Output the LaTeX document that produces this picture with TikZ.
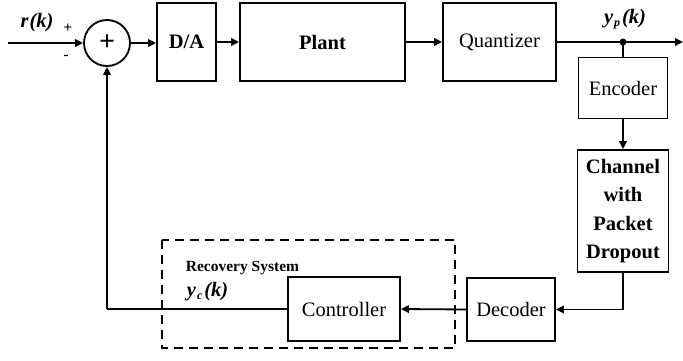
\documentclass[tikz,border=0pt]{standalone}
\usepackage{fontspec}
\setmainfont{Liberation Serif}
\usetikzlibrary{arrows.meta}
\newcommand{\subidx}[1]{\kern1pt\raisebox{-3pt}{\fontsize{12}{13}\selectfont #1}\kern2pt}
\begin{document}
\begin{tikzpicture}[x=1pt,y=-1pt,
  line width=1.8pt,
  blk/.style={draw, line width=1.8pt, inner sep=0pt, font=\fontsize{20.5}{22}\selectfont},
  arr/.style={-{Triangle[length=8pt,width=7.5pt]}},
  lbl/.style={font=\fontsize{20.5}{22}\selectfont\bfseries\itshape, inner sep=0pt},
  sgn/.style={font=\fontsize{15}{17}\selectfont\bfseries, inner sep=0pt}]
\useasboundingbox (0,0) rectangle (683,361);

% forward path blocks
\node[blk, circle, minimum size=46pt, font=\fontsize{28}{30}\selectfont\bfseries] (sum) at (107,43) {+};
\node[blk, minimum width=59pt, minimum height=78pt] (da) at (186.5,42) {\bfseries D/A};
\node[blk, minimum width=165pt, minimum height=78pt] (plant) at (322.5,42) {\bfseries Plant};
\node[blk, minimum width=113pt, minimum height=78pt] (quant) at (499.5,42) {Quantizer};

% network path blocks
\node[blk, minimum width=89pt, minimum height=61pt] (enc) at (623,88) {Encoder};
\node[blk, minimum width=91pt, minimum height=122pt, align=center,
      font=\fontsize{20.5}{28.5}\selectfont\bfseries] (chan) at (623,211) {Channel\\with\\Packet\\Dropout};
\node[blk, minimum width=88pt, minimum height=63pt] (dec) at (511,309.5) {Decoder};
\node[blk, minimum width=112pt, minimum height=64pt] (ctrl) at (344,309) {Controller};

% recovery system enclosure
\draw[dashed, dash pattern=on 9pt off 6pt] (162,240) rectangle (455,348);
\node[anchor=west, font=\fontsize{15.5}{17}\selectfont\bfseries, inner sep=0pt] (rec) at (185,268) {Recovery System};

% input and signs
\coordinate (in) at (8,43);
\draw[arr] (in) -- (sum.west);
\node[lbl] (r) at (37,23) {r\kern1pt(k)};
\node[sgn] (plus) at (68,28) {+};
\node[sgn] (minus) at (66,57) {-};

% forward connections
\draw[arr] (sum.east) -- (da.west |- sum.east);
\draw[arr] (da.east) -- (plant.west);
\draw[arr] (plant.east) -- (quant.west);
\coordinate (jn) at (623,42);
\coordinate (out) at (683,42);
\draw[arr] (quant.east) -- (out);
\fill (jn) circle (3.5pt);
\draw (jn) -- (enc.north);
\node[lbl] (yp) at (625,19) {y\subidx{p}(k)};

% network path
\draw[arr] (enc.south) -- (chan.north);
\draw[arr] (chan.south) |- (dec.east);
\draw[arr] (dec.west) -- (ctrl.east);

% feedback to the summing junction
\coordinate (fb) at (107,309);
\draw (ctrl.west) -- (fb);
\draw[arr] (fb) -- (sum.south);
\node[lbl, anchor=west] (yc) at (186,292) {y\subidx{c}(k)};
\end{tikzpicture}
\end{document}
